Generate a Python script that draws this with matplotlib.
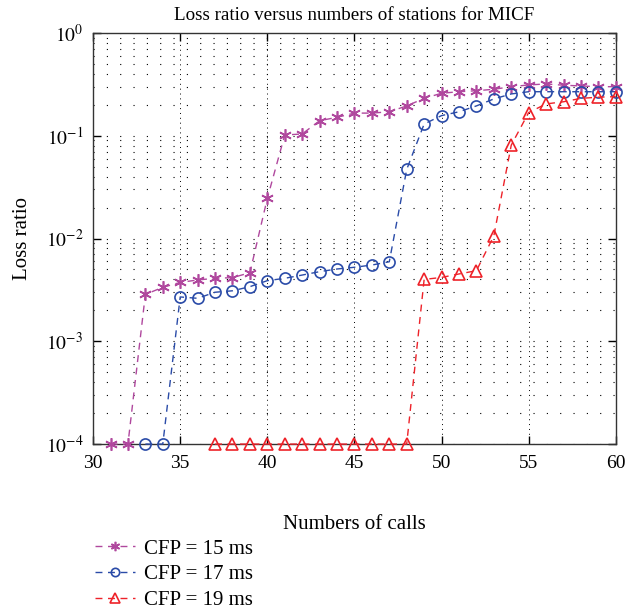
import matplotlib
matplotlib.use("Agg")
import matplotlib.pyplot as plt
import numpy as np

calls = list(range(31, 61))

cfp15 = [1e-4, 1e-4, 2.86e-3, 3.35e-3, 3.74e-3, 3.95e-3, 4.1e-3, 4.16e-3, 4.65e-3,
         0.0246, 0.1016, 0.104, 0.140, 0.151, 0.166, 0.166, 0.171, 0.195, 0.231,
         0.259, 0.268, 0.274, 0.283, 0.30, 0.312, 0.319, 0.31, 0.305, 0.30, 0.30]
calls17 = list(range(33, 61))
cfp17 = [1e-4, 1e-4, 2.7e-3, 2.62e-3, 3.0e-3, 3.1e-3, 3.4e-3, 3.89e-3, 4.1e-3,
         4.41e-3, 4.76e-3, 5.05e-3, 5.25e-3, 5.52e-3, 5.94e-3, 0.047, 0.13, 0.157,
         0.171, 0.195, 0.228, 0.255, 0.268, 0.268, 0.268, 0.268, 0.268, 0.268]
calls19 = list(range(37, 61))
cfp19 = [1e-4] * 12 + [4.0e-3, 4.18e-3, 4.52e-3, 4.86e-3, 0.0106, 0.081, 0.168,
                       0.204, 0.214, 0.231, 0.237, 0.24]

labels = ["CFP = 15 ms", "CFP = 17 ms", "CFP = 19 ms"]
title = "Loss ratio versus numbers of stations for MICF"
xlabel = "Numbers of calls"
ylabel = "Loss ratio"

plt.rcParams['font.family'] = ['Liberation Serif', 'DejaVu Serif']
plt.rcParams['mathtext.fontset'] = 'stix'

fig = plt.figure(figsize=(6.29, 6.10), dpi=100)
ax = fig.add_axes([0.148, 0.272, 0.831, 0.674])

c15, c17, c19 = '#B0489E', '#2A4BA8', '#EE2229'
dash = (0, (5, 4))
l1, = ax.plot(calls, cfp15, linestyle=dash, color=c15, lw=1.0,
              marker=(6, 2, 0), markersize=9, markeredgewidth=1.2,
              label=labels[0], clip_on=False, zorder=3)
l2, = ax.plot(calls17, cfp17, linestyle=dash, color=c17, lw=1.0,
              marker='o', markersize=8, markerfacecolor='none',
              markeredgewidth=1.2, label=labels[1], clip_on=False, zorder=3)
l3, = ax.plot(calls19, cfp19, linestyle=dash, color=c19, lw=1.0,
              marker='^', markersize=9, markerfacecolor='none',
              markeredgewidth=1.2, label=labels[2], clip_on=False, zorder=3)

ax.set_yscale('log')
ax.set_xlim(30, 60)
ax.set_ylim(1e-4, 1)
ax.set_xticks([30, 35, 40, 45, 50, 55, 60])
ax.set_yticks([1e-4, 1e-3, 1e-2, 1e-1, 1])
ax.set_yticklabels([r'$10^{-4}$', r'$10^{-3}$', r'$10^{-2}$', r'$10^{-1}$', r'$10^{0}$'])
ax.tick_params(which='both', direction='in', top=True, right=True, labelsize=14)
ax.tick_params(which='major', length=6, width=1.0)
ax.tick_params(axis='x', pad=8)
ax.tick_params(axis='y', pad=7)
ax.tick_params(which='minor', length=0)
ax.grid(True, which='major', axis='x', linestyle=(0, (1, 4)), color='black', lw=0.7)
ax.grid(True, which='major', axis='y', linestyle=(0, (1, 11)), color='black', lw=0.8)
ax.grid(True, which='minor', axis='y', linestyle=(0, (1, 11)), color='black', lw=0.8)
for s in ax.spines.values():
    s.set_linewidth(1.0)
    s.set_color('#333333')

ax.set_title(title, fontsize=13.7, pad=9)
ax.set_xlabel(xlabel, fontsize=15, labelpad=31)
ax.set_ylabel(ylabel, fontsize=15, labelpad=10)

fig.legend(handles=[l1, l2, l3], labels=labels, loc='upper left',
           bbox_to_anchor=(0.138, 0.130), frameon=False, fontsize=15,
           markerscale=0.75, handlelength=1.9, labelspacing=0.3, handletextpad=0.45,
           borderaxespad=0.0)

fig.savefig('out.png', dpi=100)
